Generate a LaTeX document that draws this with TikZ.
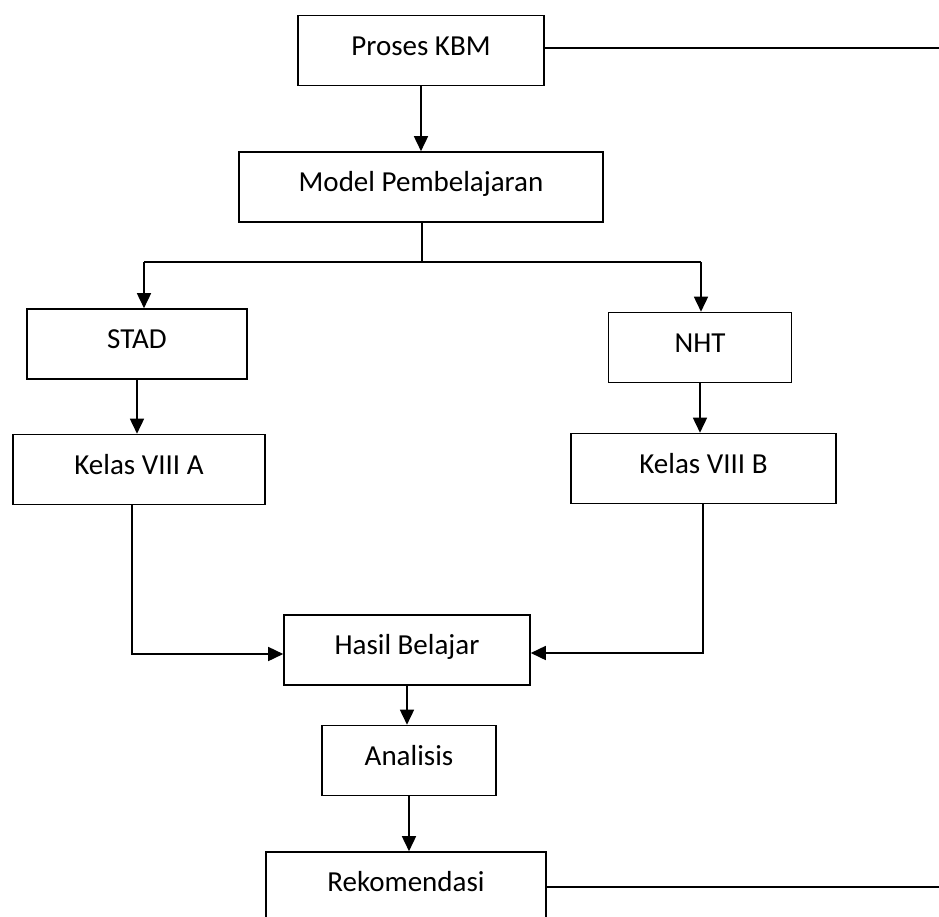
\documentclass[tikz,border=0pt]{standalone}
\usepackage{fontspec}
\setmainfont{Carlito}
\usetikzlibrary{arrows.meta}
\begin{document}
\begin{tikzpicture}[x=0.5pt,y=-0.5pt,
  box/.style={draw,line width=0.8pt,inner sep=0pt,minimum height=35pt,
    text height=10pt,text depth=5.5pt,font=\fontsize{14.5}{17}\selectfont},
  conn/.style={line width=0.8pt},
  arr/.style={line width=0.8pt,-{Triangle[length=7.5pt,width=7pt]}}]
\clip (0,0) rectangle (939,917);
\fill[white] (0,0) rectangle (939,917);
\node[box,minimum width=123pt] (kbm) at (421,50.5) {Proses KBM};
\node[box,minimum width=182pt] (model) at (421,187) {Model Pembelajaran};
\node[box,minimum width=110pt] (stad) at (137,344) {STAD};
\node[box,minimum width=91.5pt] (nht) at (700,347.5) {NHT};
\node[box,minimum width=126pt] (kelasA) at (139,469.5) {Kelas VIII A};
\node[box,minimum width=132.5pt] (kelasB) at (703.5,468.5) {Kelas VIII B};
\node[box,minimum width=123pt] (hasil) at (407,650) {Hasil Belajar};
\node[box,minimum width=87pt] (analisis) at (409,760.5) {Analisis};
\node[box,minimum width=140pt] (rekom) at (406,887) {Rekomendasi};
\coordinate (kbmend) at (939,48);
\coordinate (split) at (422,262);
\coordinate (sl) at (144,262);
\coordinate (sr) at (701,262);
\coordinate (la) at (132,654);
\coordinate (rb) at (703,653);
\coordinate (rend) at (939,887);
\draw[conn] (kbm.east |- kbmend) -- (kbmend);
\draw[arr] (kbm.south) -- (kbm.south |- model.north);
\draw[conn] (split |- model.south) -- (split);
\draw[conn] (sl) -- (sr);
\draw[arr] (sl) -- (sl |- stad.north);
\draw[arr] (sr) -- (sr |- nht.north);
\draw[arr] (stad.south) -- (stad.south |- kelasA.north);
\draw[arr] (nht.south) -- (nht.south |- kelasB.north);
\draw[arr] (kelasA.south -| la) -- (la) -- (la -| hasil.west);
\draw[arr] (kelasB.south -| rb) -- (rb) -- (rb -| hasil.east);
\draw[arr] (hasil.south) -- (hasil.south |- analisis.north);
\draw[arr] (analisis.south) -- (analisis.south |- rekom.north);
\draw[conn] (rekom.east |- rend) -- (rend);
\end{tikzpicture}
\end{document}
